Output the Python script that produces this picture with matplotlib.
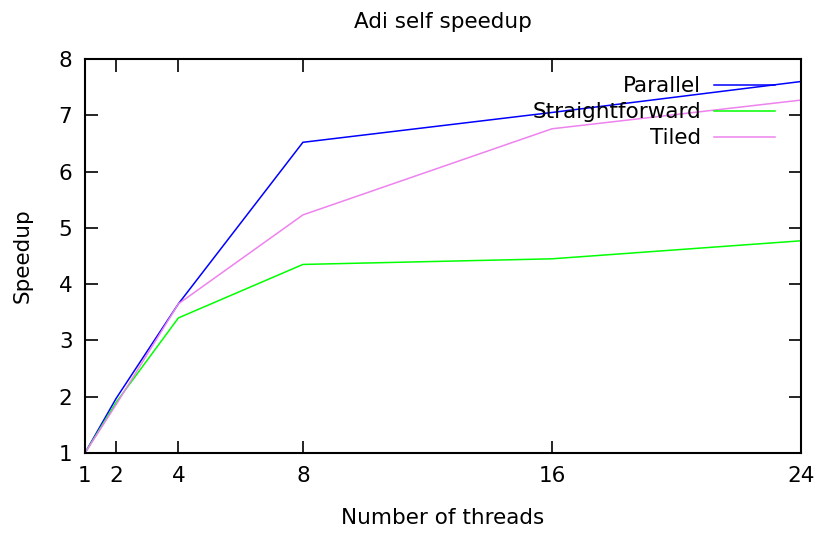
import matplotlib.pyplot as plt

threads = [1, 2, 4, 8, 16, 24]
parallel = [1.0, 1.97, 3.65, 6.52, 7.05, 7.60]
straightforward = [1.0, 1.9, 3.40, 4.35, 4.45, 4.77]
tiled = [1.0, 1.86, 3.65, 5.23, 6.76, 7.27]

plt.rcParams['font.family'] = 'DejaVu Sans'
plt.rcParams['font.size'] = 15.5

fig = plt.figure(figsize=(8.19, 5.37), dpi=100)
ax = fig.add_axes([85 / 819, 1 - 453 / 537, 716 / 819, 394 / 537])

ax.plot(threads, parallel, color='#0000ff', lw=1.1, label='Parallel')
ax.plot(threads, straightforward, color='#00ff00', lw=1.1, label='Straightforward')
ax.plot(threads, tiled, color='#ee82ee', lw=1.1, label='Tiled')

ax.set_xlim(1, 24)
ax.set_ylim(1, 8)
ax.set_xticks(threads)
ax.set_yticks(range(1, 9))
ax.tick_params(direction='in', length=9, width=1.2, top=True, right=True, pad=9)
for s in ax.spines.values():
    s.set_linewidth(1.5)

ax.set_xlabel('Number of threads', labelpad=16)
ax.set_ylabel('Speedup', labelpad=19)
ax.set_title('Adi self speedup', fontsize=15.5, pad=22)

ax.legend(loc='upper right', frameon=False, markerfirst=False, handlelength=2.85,
          handletextpad=0.6, labelspacing=0.28, borderaxespad=0.3,
          bbox_to_anchor=(0.985, 0.995))

fig.savefig('out.png', dpi=100)
